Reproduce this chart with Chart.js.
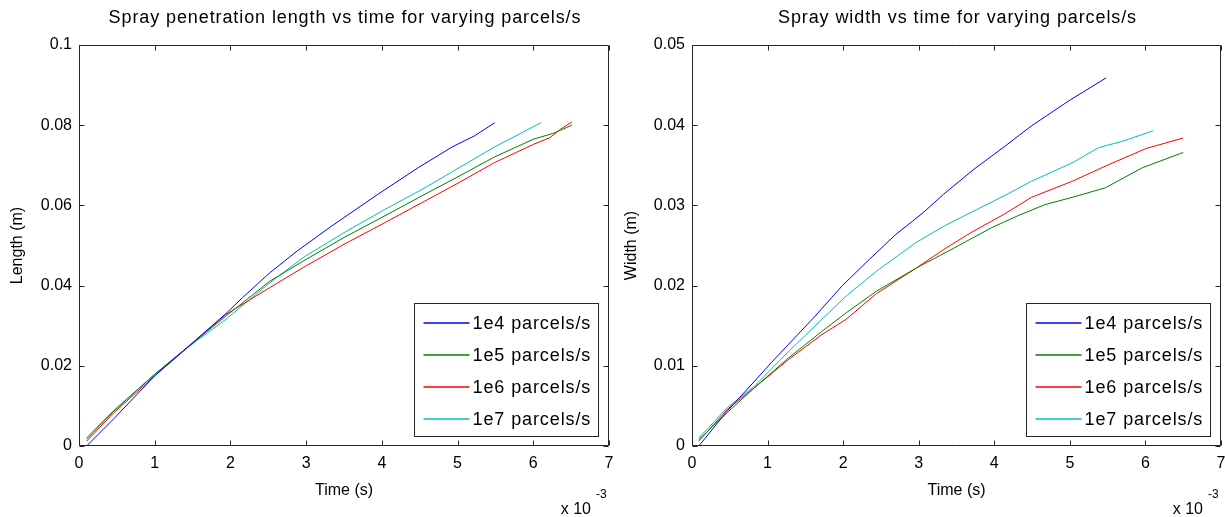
<!DOCTYPE html>
<html><head><meta charset="utf-8">
<script src="https://cdn.jsdelivr.net/npm/chart.js@4.4.1/dist/chart.umd.min.js"></script>
<style>
html,body{margin:0;padding:0;background:#fff;}
#wrap{position:relative;width:1225px;height:517px;overflow:hidden;background:#fff;}
canvas{position:absolute;top:0;}
#c1{left:0;} #c2{left:612px;}
</style></head><body>
<div id="wrap"><canvas id="c1" width="620" height="517"></canvas><canvas id="c2" width="613" height="517"></canvas></div>
<script>
// ---- data (time in units of 1e-3 s) ----
const seriesLabels = ['1e4 parcels/s', '1e5 parcels/s', '1e6 parcels/s', '1e7 parcels/s'];
const xTicks = [0, 1, 2, 3, 4, 5, 6, 7];
const lengthTicks = [0, 0.02, 0.04, 0.06, 0.08, 0.1];
const widthTicks = [0, 0.01, 0.02, 0.03, 0.04, 0.05];

const tLen1e4 = [0.1, 0.46, 1.0, 1.4, 1.94, 2.16, 2.52, 2.88, 3.34, 3.95, 4.48, 4.93, 5.22, 5.49];
const len1e4  = [0, 0.0068, 0.0175, 0.0241, 0.033, 0.037, 0.0432, 0.0486, 0.0549, 0.0628, 0.0694, 0.0746, 0.0773, 0.0806];
const tLen1e5 = [0.1, 0.46, 1.0, 1.4, 1.94, 2.52, 2.96, 3.5, 4.04, 4.57, 5.02, 5.49, 6.0, 6.27, 6.51];
const len1e5  = [0.0017, 0.0087, 0.0179, 0.0241, 0.0324, 0.0411, 0.0461, 0.052, 0.0574, 0.0628, 0.0673, 0.0721, 0.0765, 0.078, 0.080];
const tLen1e6 = [0.1, 0.46, 1.0, 1.4, 1.94, 2.12, 2.52, 2.96, 3.5, 4.04, 4.57, 5.02, 5.49, 6.0, 6.22, 6.36, 6.51];
const len1e6  = [0.0012, 0.0083, 0.0175, 0.024, 0.0328, 0.0349, 0.0395, 0.0445, 0.0503, 0.0557, 0.0611, 0.0657, 0.0707, 0.0752, 0.0769, 0.079, 0.0808];
const tLen1e7 = [0.1, 0.46, 1.0, 1.4, 1.94, 2.52, 2.96, 3.5, 4.04, 4.57, 5.02, 5.49, 6.1];
const len1e7  = [0.0021, 0.0089, 0.0179, 0.0241, 0.0316, 0.0407, 0.047, 0.0532, 0.059, 0.0644, 0.0694, 0.0746, 0.0806];

const tWid1e4 = [0.09, 0.47, 0.83, 1.05, 1.28, 1.63, 1.99, 2.35, 2.7, 3.06, 3.33, 3.73, 4.13, 4.49, 4.98, 5.48];
const wid1e4  = [0, 0.0044, 0.0081, 0.0104, 0.0127, 0.0162, 0.02, 0.0233, 0.0264, 0.0291, 0.0314, 0.0345, 0.0373, 0.0399, 0.043, 0.0459];
const tWid1e5 = [0.09, 0.47, 0.83, 1.28, 1.72, 2.04, 2.44, 2.97, 3.51, 3.96, 4.31, 4.67, 5.03, 5.47, 5.96, 6.5];
const wid1e5  = [0.0008, 0.0042, 0.0073, 0.011, 0.0143, 0.0166, 0.0193, 0.0222, 0.0249, 0.0272, 0.0287, 0.0301, 0.031, 0.0322, 0.0347, 0.0366];
const tWid1e6 = [0.09, 0.47, 0.83, 1.28, 1.72, 2.04, 2.44, 2.97, 3.33, 3.69, 4.13, 4.49, 5.03, 5.47, 6.01, 6.5];
const wid1e6  = [0.0006, 0.0046, 0.0073, 0.0108, 0.0139, 0.0158, 0.019, 0.0222, 0.0245, 0.0266, 0.0289, 0.031, 0.033, 0.0349, 0.0371, 0.0384];
const tWid1e7 = [0.09, 0.47, 0.83, 1.28, 1.72, 2.04, 2.44, 2.97, 3.33, 3.77, 4.13, 4.49, 5.03, 5.38, 5.7, 6.1];
const wid1e7  = [0.001, 0.0048, 0.0075, 0.0118, 0.0158, 0.0187, 0.0218, 0.0254, 0.0274, 0.0295, 0.0312, 0.033, 0.0353, 0.0372, 0.038, 0.0393];

// ---- styling ----
const lineColors = ['#0000ff', '#008000', '#ff0000', '#00bfbf'];
const FONT = "'Liberation Sans', Arial, Helvetica, sans-serif";
Chart.defaults.font.family = FONT;
Chart.defaults.color = '#000';

function pts(t, v) { return t.map((x, i) => ({x: x, y: v[i]})); }
function fmt(v) { return String(+(+v).toFixed(4)); }

const framePlugin = {
  id: 'frame',
  afterDatasetsDraw(chart, args, opts) {
    const {ctx, chartArea: a, scales: {x, y}} = chart;
    const L = Math.round(a.left) + 0.5, R = Math.round(a.right) - 0.5;
    const T = Math.round(a.top) + 0.5, B = Math.round(a.bottom) - 0.5;
    ctx.save();
    ctx.strokeStyle = '#262626';
    ctx.lineWidth = 1;
    ctx.beginPath();
    ctx.rect(L, T, R - L, B - T);
    const tl = 5;
    x.ticks.forEach(t => {
      const px = Math.round(x.getPixelForValue(t.value)) + 0.5;
      ctx.moveTo(px, B); ctx.lineTo(px, B - tl);
      ctx.moveTo(px, T); ctx.lineTo(px, T + tl);
    });
    y.ticks.forEach(t => {
      const py = Math.round(y.getPixelForValue(t.value)) + 0.5;
      ctx.moveTo(L, py); ctx.lineTo(L + tl, py);
      ctx.moveTo(R, py); ctx.lineTo(R - tl, py);
    });
    ctx.stroke();

    const hasLS = ('letterSpacing' in ctx);

    // title
    ctx.fillStyle = '#000';
    ctx.textBaseline = 'middle';
    ctx.textAlign = 'center';
    if (hasLS) { ctx.font = '18px ' + FONT; ctx.letterSpacing = '0.9px'; }
    else { ctx.font = '20px ' + FONT; }
    ctx.fillText(opts.title, (a.left + a.right) / 2 + 1, 18);

    // legend box
    const bw = 184, bh = 133;
    const bx = Math.round(a.right - opts.legendRight - bw) + 0.5;
    const by = Math.round(a.bottom - opts.legendBottom - bh) + 0.5;
    ctx.fillStyle = '#fff';
    ctx.fillRect(bx, by, bw, bh);
    ctx.strokeStyle = '#262626';
    ctx.lineWidth = 1;
    ctx.strokeRect(bx, by, bw, bh);
    ctx.textAlign = 'left';
    chart.data.datasets.forEach((ds, i) => {
      const ry = Math.round(by + 19 + i * 32.2);
      ctx.beginPath();
      ctx.strokeStyle = lineColors[i];
      ctx.lineWidth = 1.4;
      ctx.moveTo(bx + 9, ry); ctx.lineTo(bx + 55, ry);
      ctx.stroke();
      ctx.fillStyle = '#000';
      ctx.fillText(ds.label, bx + 58, ry + 1);
    });
    if (hasLS) ctx.letterSpacing = '0px';

    // exponent label
    ctx.fillStyle = '#000';
    ctx.textBaseline = 'alphabetic';
    ctx.textAlign = 'right';
    ctx.font = '16px ' + FONT;
    ctx.fillText('x 10', a.right - 18, a.bottom + 68);
    ctx.textAlign = 'left';
    ctx.font = '12px ' + FONT;
    ctx.fillText('-3', a.right - 13, a.bottom + 52);
    ctx.restore();
  }
};

function makeChart(id, title, yTitle, yTicks, yMax, tArrs, vArrs, yAxisWidth, yTitlePad, rightPad) {
  return new Chart(document.getElementById(id), {
    type: 'line',
    data: {
      datasets: seriesLabels.map((lab, i) => ({
        label: lab,
        data: pts(tArrs[i], vArrs[i]),
        borderColor: lineColors[i],
        backgroundColor: lineColors[i],
        borderWidth: 1,
        pointRadius: 0,
        tension: 0,
        fill: false
      }))
    },
    options: {
      responsive: false,
      animation: false,
      events: [],
      layout: {padding: {left: 0, right: rightPad, top: 45, bottom: 0}},
      plugins: {
        legend: {display: false},
        tooltip: {enabled: false},
        title: {display: false},
        frame: {legendRight: 11, legendBottom: 10, title: title}
      },
      scales: {
        x: {
          type: 'linear', min: xTicks[0], max: xTicks[xTicks.length - 1],
          afterBuildTicks(s) { s.ticks = xTicks.map(v => ({value: v})); },
          ticks: {padding: 8, color: '#000', font: {size: 16}, maxRotation: 0, callback: v => fmt(v)},
          grid: {display: false, drawTicks: false},
          border: {display: false},
          title: {display: true, text: 'Time (s)', color: '#000', font: {size: 16}, padding: {top: 0, bottom: 17}},
          afterFit(s) { s.height = 71; s.paddingLeft = 0; s.paddingRight = 0; }
        },
        y: {
          type: 'linear', min: 0, max: yMax,
          afterBuildTicks(s) { s.ticks = yTicks.map(v => ({value: v})); },
          ticks: {padding: 7, color: '#000', font: {size: 16}, callback: v => fmt(v)},
          grid: {display: false, drawTicks: false},
          border: {display: false},
          title: {display: true, text: yTitle, color: '#000', font: {size: 16}, padding: {top: yTitlePad, bottom: 0}},
          afterFit(s) { s.width = yAxisWidth; s.paddingTop = 0; s.paddingBottom = 0; }
        }
      }
    },
    plugins: [framePlugin]
  });
}

makeChart('c1', 'Spray penetration length vs time for varying parcels/s', 'Length (m)',
  lengthTicks, 0.1,
  [tLen1e4, tLen1e5, tLen1e6, tLen1e7], [len1e4, len1e5, len1e6, len1e7], 79, 8.4, 11);
makeChart('c2', 'Spray width vs time for varying parcels/s', 'Width (m)',
  widthTicks, 0.05,
  [tWid1e4, tWid1e5, tWid1e6, tWid1e7], [wid1e4, wid1e5, wid1e6, wid1e7], 80, 10.4, 4);
</script>
</body></html>
